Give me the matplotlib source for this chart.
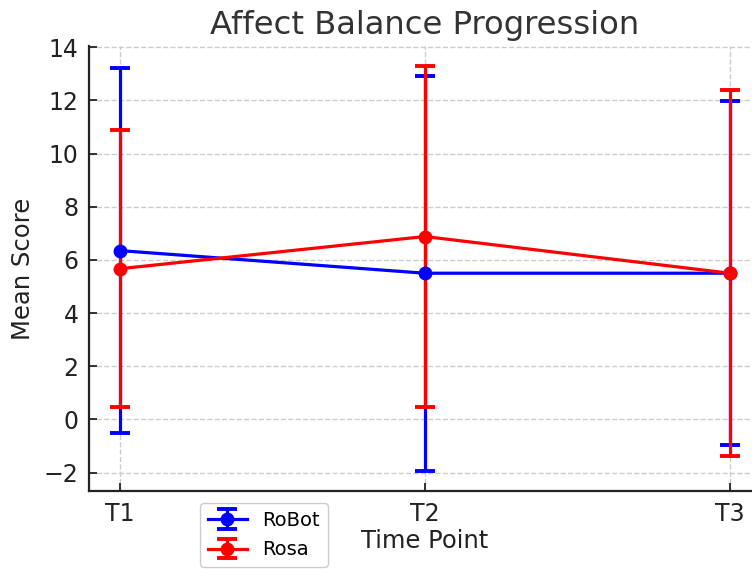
import numpy as np
import matplotlib
matplotlib.use('Agg')
import matplotlib.pyplot as plt

time_points = ['T1', 'T2', 'T3']

robot_mean = [6.35, 5.50, 5.50]
robot_err = [6.85, 7.43, 6.47]

rosa_mean = [5.67, 6.88, 5.50]
rosa_err = [5.21, 6.40, 6.88]

x = np.arange(len(time_points))

fig = plt.figure(figsize=(7.52, 5.69), dpi=100)
ax = fig.add_axes([0.119, 0.137, 0.892, 0.782])

ax.errorbar(x, robot_mean, yerr=robot_err, fmt='-o', color='blue', label='RoBot',
            linewidth=2.3, elinewidth=2.3, capsize=7, capthick=2.8, markersize=9)
ax.errorbar(x, rosa_mean, yerr=rosa_err, fmt='-o', color='red', label='Rosa',
            linewidth=2.3, elinewidth=2.3, capsize=7, capthick=2.8, markersize=9)

ax.set_xticks(x)
ax.set_xticklabels(time_points)
ax.set_yticks(np.arange(-2, 15, 2))
ax.set_title('Affect Balance Progression', fontsize=23.2, color='#333333', pad=9)
ax.set_xlabel('Time Point', fontsize=17.5, color='#222222', labelpad=2)
ax.set_ylabel('Mean Score', fontsize=17.5, color='#222222', labelpad=6)
ax.tick_params(axis='both', direction='in', labelsize=17, length=6, width=1.3,
               colors='#222222', pad=8)

ax.grid(True, linestyle='--', color='#cccccc', linewidth=1)
ax.set_axisbelow(True)
for s in ['top', 'right']:
    ax.spines[s].set_visible(False)
for s in ['left', 'bottom']:
    ax.spines[s].set_linewidth(1.6)
    ax.spines[s].set_color('#222222')

ax.legend(loc='upper left', bbox_to_anchor=(0.266, 0.116), bbox_transform=fig.transFigure,
          borderaxespad=0, fontsize=14, framealpha=1, edgecolor='#cccccc',
          handlelength=2.0, labelspacing=0.55)

fig.savefig('out.png', dpi=100)
